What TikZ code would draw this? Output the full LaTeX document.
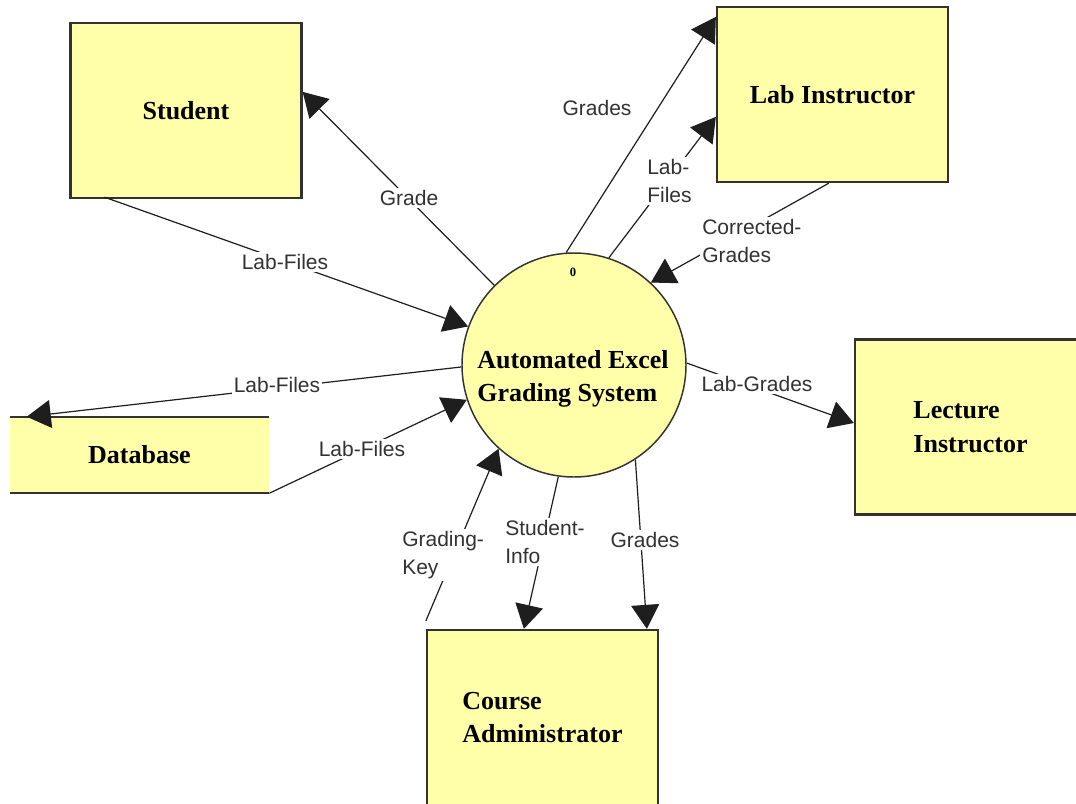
\documentclass[tikz,border=0pt]{standalone}
\usepackage{fontspec}
\setmainfont{Liberation Serif}
\setsansfont{Liberation Sans}
\usetikzlibrary{arrows.meta,calc}
\definecolor{boxfill}{RGB}{255,255,170}
\definecolor{edgec}{RGB}{50,50,50}
\definecolor{linec}{RGB}{30,30,30}
\definecolor{labc}{RGB}{50,50,50}
\begin{document}
\begin{tikzpicture}[x=0.75pt,y=-0.75pt,
  entity/.style={draw=edgec, line width=1.7pt, fill=boxfill, minimum width=173.25pt, minimum height=131.25pt, inner sep=0pt, font=\fontsize{19.5}{25}\selectfont\bfseries, align=left},
  process/.style={circle, draw=edgec, line width=1.1pt, fill=boxfill, minimum size=168pt, inner sep=0pt},
  bigtext/.style={font=\fontsize{19.5}{24.75}\selectfont\bfseries, align=left, inner sep=0pt},
  flow/.style={draw=linec, line width=0.9pt, -{Triangle[length=18pt,width=21pt]}},
  lab/.style={font=\fontsize{15.75}{21}\selectfont\sffamily, text=labc, fill=white, inner sep=1.5pt, align=left}]
\useasboundingbox (0,0) rectangle (1076,804);
\fill[white] (0,0) rectangle (1076,804);

% entities
\node[entity] (student) at (186,110.5) {Student};
\node[entity] (lab) at (832.5,94.5) {Lab Instructor};
\node[entity] (lect) at (970.5,427) {Lecture\\Instructor};
\node[entity] (admin) at (542.5,717.5) {Course\\Administrator};

% data store
\node[fill=boxfill, minimum width=194.25pt, minimum height=57pt, inner sep=0pt, font=\fontsize{19.5}{25}\selectfont\bfseries] (db) at (139.5,455) {Database};
\draw[edgec, line width=1.7pt] (db.north west) -- (db.north east);
\draw[edgec, line width=1.7pt] (db.south west) -- (db.south east);

% process
\node[process] (circ) at (574,365) {};
\node[bigtext] (circtext) at (573,379) {Automated Excel\\Grading System};
\node[font=\fontsize{9.5}{10}\selectfont\bfseries, inner sep=0pt] (pnum) at (573,272) {0};

% flows
\draw[flow] ($(student.south west)+(35,-2)$) -- (circ.160);
\draw[flow] (circ.135) -- ($(student.north east)+(0,70)$);
\draw[flow] (circ.94) -- ($(lab.north west)+(0,11)$);
\draw[flow] (circ.72) -- ($(lab.north west)+(0,111)$);
\draw[flow] ($(lab.south west)+(113,0)$) -- (circ.47);
\draw[flow] (circ.1) -- ($(lect.west)+(0,-4)$);
\draw[flow] (circ.181) -- ($(db.north west)+(17,0)$);
\draw[flow] (db.south east) -- (circ.198);
\draw[flow] ($(admin.north west)+(0,-8)$) -- (circ.228);
\draw[flow] (circ.262) -- ($(admin.north west)+(98,0)$);
\draw[flow] (circ.303) -- ($(admin.north west)+(221,0)$);

% labels
\node[lab] (l1) at (285,262) {Lab-Files};
\node[lab] (l2) at (409,198) {Grade};
\node[lab] (l3) at (597,108) {Grades};
\node[lab, anchor=west] (l4) at (645,181) {Lab-\\Files};
\node[lab, anchor=west] (l5) at (700,241) {Corrected-\\Grades};
\node[lab] (l6) at (757,384) {Lab-Grades};
\node[lab] (l7) at (277,385) {Lab-Files};
\node[lab] (l8) at (362,449) {Lab-Files};
\node[lab, anchor=west] (l9) at (400,555) {Grading-\\Key};
\node[lab, anchor=west] (l10) at (503,542) {Student-\\Info};
\node[lab] (l11) at (645,540) {Grades};
\end{tikzpicture}
\end{document}
